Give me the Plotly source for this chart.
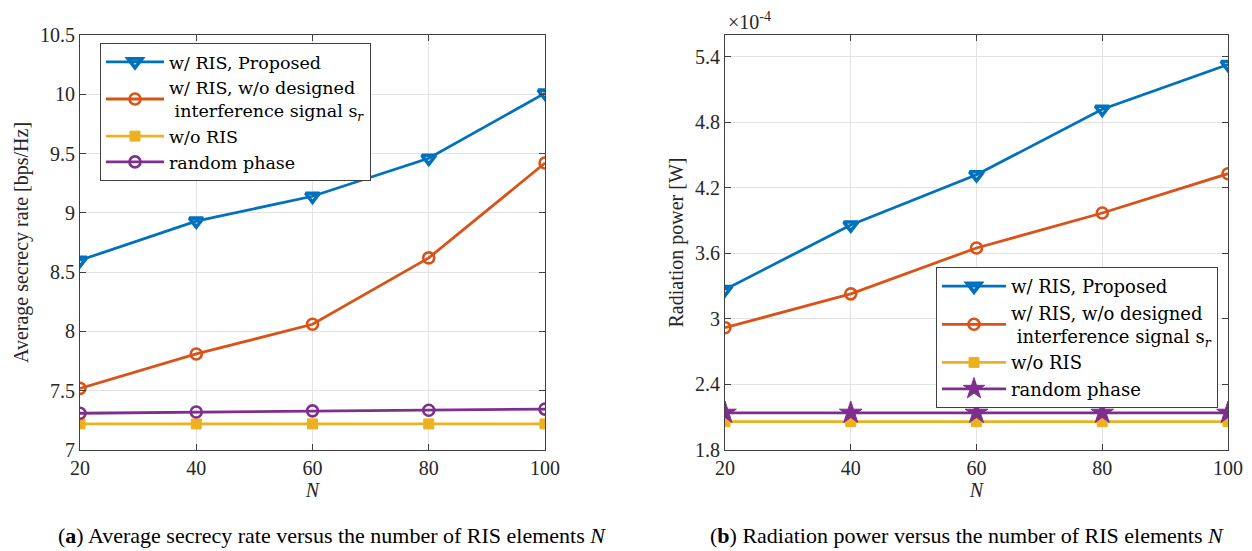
import plotly.graph_objects as go

N = [20, 40, 60, 80, 100]

# (a) Average secrecy rate [bps/Hz]
rate_proposed = [8.60, 8.93, 9.14, 9.46, 10.01]
rate_no_sr = [7.52, 7.81, 8.06, 8.62, 9.42]
rate_no_ris = [7.22, 7.22, 7.22, 7.22, 7.22]
rate_random = [7.31, 7.32, 7.33, 7.335, 7.345]

# (b) Radiation power [x1e-4 W]
pow_proposed = [3.27, 3.86, 4.32, 4.92, 5.33]
pow_no_sr = [2.92, 3.23, 3.65, 3.97, 4.33]
pow_no_ris = [2.06, 2.06, 2.06, 2.06, 2.06]
pow_random = [2.14, 2.14, 2.14, 2.14, 2.14]

names = ["w/ RIS, Proposed",
         "w/ RIS, w/o designed<br> interference signal s<sub><i>r</i></sub>",
         "w/o RIS",
         "random phase"]
colors = ["#0072BD", "#D95319", "#EDB120", "#7E2F8E"]

FONT = "Liberation Serif"
LFONT = "DejaVu Serif"
W, H = 1252, 551

def px_x(p):
    return p / W

def px_y(p):
    return (H - p) / H

fig = go.Figure()

def add_set(series, xa, ya, legend, last_symbol):
    symbols = [("triangle-down-open", 12, 3.6), ("circle-open", 11, 2.6), ("square", 10, 1), last_symbol]
    for i, (vals, nm) in enumerate(zip(series, names)):
        sym, sz, lw = symbols[i]
        fig.add_trace(go.Scatter(
            x=N, y=vals, name=nm, mode="lines+markers",
            line=dict(color=colors[i], width=2.8),
            marker=dict(symbol=sym, size=sz, color=colors[i],
                        line=dict(color=colors[i], width=lw)),
            xaxis=xa, yaxis=ya, legend=legend))

add_set([rate_proposed, rate_no_sr, rate_no_ris, rate_random], "x", "y", "legend", ("circle-open", 11, 2.6))
add_set([pow_proposed, pow_no_sr, pow_no_ris, pow_random], "x2", "y2", "legend2", ("star", 17, 1))

ydom = [px_y(450), px_y(35)]
axis_common = dict(showline=True, linecolor="#404040", linewidth=1, mirror="ticks",
                   ticks="inside", ticklen=6, tickcolor="#404040",
                   showgrid=True, gridcolor="#E3E3E3", gridwidth=1, zeroline=False,
                   automargin=False,
                   tickfont=dict(family=FONT, size=20, color="#262626"))

legend_common = dict(xanchor="left", yanchor="top",
                     bgcolor="white", bordercolor="#404040", borderwidth=1,
                     tracegroupgap=0)

fig.update_layout(
    width=W, height=H, margin=dict(l=0, r=0, t=0, b=0, autoexpand=False),
    font=dict(family=FONT),
    paper_bgcolor="white", plot_bgcolor="white",
    xaxis=dict(domain=[px_x(80), px_x(545)], range=[20, 100], tickvals=N,
               title=dict(text="<i>N</i>", font=dict(family=FONT, size=20, color="#262626"), standoff=2),
               anchor="y", **axis_common),
    yaxis=dict(domain=ydom, range=[7, 10.5], tickvals=[7, 7.5, 8, 8.5, 9, 9.5, 10, 10.5],
               ticktext=["7", "7.5", "8", "8.5", "9", "9.5", "10", "10.5"],
               title=dict(text="Average secrecy rate [bps/Hz]", font=dict(family=FONT, size=20, color="#262626"), standoff=6),
               anchor="x", **axis_common),
    xaxis2=dict(domain=[px_x(725), px_x(1228)], range=[20, 100], tickvals=N,
                title=dict(text="<i>N</i>", font=dict(family=FONT, size=20, color="#262626"), standoff=2),
                anchor="y2", **axis_common),
    yaxis2=dict(domain=ydom, range=[1.8, 5.6], tickvals=[1.8, 2.4, 3, 3.6, 4.2, 4.8, 5.4],
                ticktext=["1.8", "2.4", "3", "3.6", "4.2", "4.8", "5.4"],
                title=dict(text="Radiation power [W]", font=dict(family=FONT, size=20, color="#262626"), standoff=6),
                anchor="x2", **axis_common),
    legend=dict(x=px_x(100), y=px_y(43), itemwidth=58,
                font=dict(family=LFONT, size=17.5, color="black"), **legend_common),
    legend2=dict(x=px_x(936), y=px_y(267), itemwidth=64,
                 font=dict(family=LFONT, size=18, color="black"), **legend_common),
    annotations=[
        dict(text="×10<sup>-4</sup>", x=px_x(726), y=px_y(21), xref="paper", yref="paper",
             xanchor="left", yanchor="middle", showarrow=False,
             font=dict(family=FONT, size=20, color="#262626")),
        dict(text="(<b>a</b>) Average secrecy rate versus the number of RIS elements <i>N</i>",
             x=px_x(332), y=px_y(535), xref="paper", yref="paper",
             xanchor="center", yanchor="middle", showarrow=False,
             font=dict(family=FONT, size=22, color="black")),
        dict(text="(<b>b</b>) Radiation power versus the number of RIS elements <i>N</i>",
             x=px_x(967), y=px_y(535), xref="paper", yref="paper",
             xanchor="center", yanchor="middle", showarrow=False,
             font=dict(family=FONT, size=22, color="black")),
    ],
)

fig.write_html("out.html", config={"displayModeBar": False},
               post_script="document.body.style.margin='0';document.body.style.overflow='hidden';")
